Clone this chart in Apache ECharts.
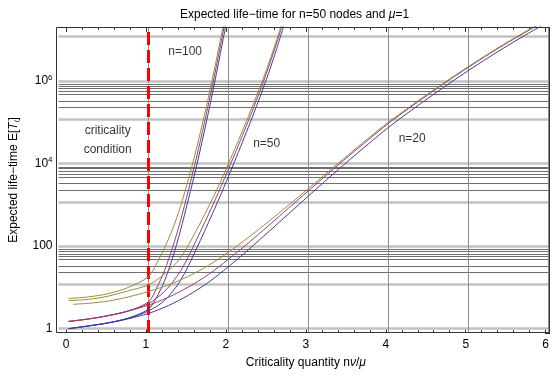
<!DOCTYPE html>
<html>
<head>
<meta charset="utf-8">
<script src="https://cdn.jsdelivr.net/npm/echarts@6/dist/echarts.min.js"></script>
<style>
  html, body { margin: 0; padding: 0; background: #fff; }
  #chart { width: 552px; height: 377px; }
</style>
</head>
<body>
<div id="chart"></div>
<script>
// values (log y axis)
const xs100 = [0, 0.25, 0.5, 0.75, 1, 1.1, 1.2, 1.3, 1.4, 1.5, 1.6, 1.7, 1.8, 1.9, 2.0];
const blue100 = [1, 1.17, 1.4, 1.82, 2.95, 5.62, 14.1, 50.1, 234, 1349, 8318, 6.03e4, 4.9e5, 4.57e6, 4.57e7];
const magenta100 = [1.5, 1.72, 2.07, 2.69, 4.47, 9.33, 25.1, 89.1, 403, 2239, 1.349e4, 9.55e4, 7.59e5, 6.97e6, 6.86e7];
const olive100 = [5.37, 5.89, 7.08, 10, 18.2, 37.2, 89.1, 251, 891, 4169, 2.24e4, 1.46e5, 1.1e6, 9.66e6, 9.12e7];

const xs50 = [0, 0.25, 0.5, 0.75, 1, 1.2, 1.4, 1.6, 1.8, 1.9, 2.0, 2.1, 2.2, 2.3, 2.4, 2.5, 2.6, 2.7];
const blue50 = [1, 1.17, 1.38, 1.78, 2.69, 4.79, 14.5, 85.1, 603, 1660, 4786, 1.41e4, 4.27e4, 1.32e5, 4.27e5, 1.48e6, 5.62e6, 2.34e7];
const magenta50 = [1.5, 1.72, 2.07, 2.69, 4.07, 7.94, 24.5, 140, 933, 2541, 7178, 2.09e4, 6.17e4, 1.88e5, 6e5, 2.07e6, 7.76e6, 3.2e7];
const olive50 = [4.79, 5.13, 6.17, 8.32, 11.5, 20.9, 51.3, 240, 1380, 3548, 9772, 2.75e4, 7.94e4, 2.37e5, 7.41e5, 2.48e6, 9.23e6, 3.76e7];

const xs20 = [0, 0.25, 0.5, 0.75, 1, 1.25, 1.5, 1.75, 2, 2.25, 2.5, 2.75, 3,
  3.25, 3.5, 3.75, 4, 4.25, 4.5, 4.75, 5, 5.25, 5.5, 5.75, 6];
const xs20olive = [0.06, 0.25, 0.5, 0.75, 1, 1.25, 1.5, 1.75, 2, 2.25, 2.5, 2.75, 3,
  3.25, 3.5, 3.75, 4, 4.25, 4.5, 4.75, 5, 5.25, 5.5, 5.75, 6];
const blue20 = [1, 1.16, 1.38, 1.74, 2.34, 3.63, 6.46, 13.2, 31.6, 81.3, 219, 596, 1622,
  4365, 1.15e4, 2.95e4, 7.41e4, 1.7e5, 3.8e5, 8.32e5, 1.76e6, 3.63e6, 7.24e6, 1.4e7, 2.63e7];
const magenta20 = [1.5, 1.72, 2.09, 2.69, 3.72, 5.75, 10.2, 20.4, 47.9, 119, 309, 822, 2163,
  5715, 1.48e4, 3.74e4, 9.27e4, 2.1e5, 4.65e5, 1.01e6, 2.11e6, 4.33e6, 8.55e6, 1.64e7, 3.07e7];
const olive20 = [3.9, 4.12, 4.68, 5.89, 7.94, 11.5, 18.6, 33.9, 70.8, 162, 389, 966, 2455,
  6310, 1.62e4, 4.07e4, 9.89e4, 2.22e5, 4.9e5, 1.05e6, 2.2e6, 4.49e6, 8.87e6, 1.69e7, 3.16e7];

// grid lines of the original plot
const gridX = [1, 2, 3, 4, 5, 6];
const gridThick = [1, 11.8, 100, 1180, 1e4, 1.18e5, 1e6, 1.18e7];
const gridThin = [83, 76, 65, 56, 47, 33, 23, 8.3e3, 7.6e3, 6.5e3, 5.6e3, 4.7e3, 3.3e3, 2.3e3,
  8.3e5, 7.6e5, 6.5e5, 5.6e5, 4.7e5, 3.3e5, 2.3e5];
const critical = 1;

const noteText = ['n=100', 'criticality', 'condition', 'n=50', 'n=20'];
const noteX = [1.46, 0.49, 0.49, 2.48, 4.3];
const noteY = [5e6, 6.1e4, 2.2e4, 3.1e4, 3.9e4];

const FONT = '"Liberation Sans", Arial, sans-serif';
const BLUE = '#3d3d99', MAGENTA = '#993d71', OLIVE = '#998b3d';
const Y_MIN = 0.787, Y_MAX = 2.02e7;

const pairs = (xs, ys) => xs.map((x, i) => [x, ys[i]]);

const curve = (name, xs, ys, color) => ({
  name,
  type: 'line',
  data: pairs(xs, ys),
  showSymbol: false,
  smooth: 0.3,
  lineStyle: { width: 1, color },
  itemStyle: { color },
  z: 5,
  animation: false,
});

const chart = echarts.init(document.getElementById('chart'), null, { renderer: 'canvas' });

const option = {
  animation: false,
  textStyle: { fontFamily: FONT },
  title: {
    text: 'Expected life\u2212time for n=50 nodes and {i|\u03bc}=1',
    left: 175,
    top: 4,
    textStyle: {
      fontSize: 12, fontWeight: 'normal', color: '#000', fontFamily: FONT,
      rich: { i: { fontSize: 12, fontStyle: 'italic', color: '#000', fontFamily: FONT } },
    },
  },
  grid: [
    { left: 56, top: 27, width: 494, height: 306 },
    { left: 66, top: 27, width: 482, height: 306 },
  ],
  xAxis: [
    { gridIndex: 0, type: 'value', min: -0.125, max: 6.025, show: false },
    {
      gridIndex: 1, type: 'value', min: 0, max: 6, interval: 1, position: 'bottom',
      axisLine: { show: false },
      axisTick: { inside: true, length: 5, lineStyle: { color: '#333' } },
      minorTick: { show: true, splitNumber: 5, length: 3, lineStyle: { color: '#333' } },
      axisLabel: { color: '#000', fontSize: 12, margin: 6, fontFamily: FONT },
      splitLine: { show: false },
      name: 'Criticality quantity n{i|\u03bd}/{i|\u03bc}',
      nameLocation: 'middle',
      nameGap: 24,
      nameTextStyle: {
        color: '#000', fontSize: 12, fontFamily: FONT,
        rich: { i: { fontSize: 12, fontStyle: 'italic', color: '#000', fontFamily: FONT } },
      },
    },
    {
      gridIndex: 1, type: 'value', min: 0, max: 6, interval: 1, position: 'top',
      axisLine: { show: false },
      axisTick: { inside: true, length: 5, lineStyle: { color: '#333' } },
      minorTick: { show: true, splitNumber: 5, length: 3, lineStyle: { color: '#333' } },
      axisLabel: { show: false },
      splitLine: { show: false },
    },
  ],
  yAxis: [
    {
      gridIndex: 0, type: 'log', logBase: 100, min: Y_MIN, max: Y_MAX,
      axisLine: { show: false },
      axisTick: { inside: true, length: 5, lineStyle: { color: '#333' } },
      splitLine: { show: false },
      axisLabel: {
        color: '#000', fontSize: 12, margin: 6, fontFamily: FONT,
        showMinLabel: false, showMaxLabel: false,
        formatter: (v) => {
          const e = Math.round(Math.log10(v));
          if (Math.abs(Math.log10(v) - e) > 1e-6) return '';
          if (e === 0) return '1';
          if (e === 2) return '100';
          return '10{sup|' + e + '}';
        },
        rich: { sup: { fontSize: 8, padding: [0, 0, 7, 0], color: '#000', fontFamily: FONT } },
      },
      name: 'Expected life\u2212time E[{i|T}{sub|i}]',
      nameLocation: 'middle',
      nameGap: 38,
      nameRotate: 90,
      nameTextStyle: {
        color: '#000', fontSize: 12, fontFamily: FONT,
        rich: {
          i: { fontSize: 12, fontStyle: 'italic', color: '#000', fontFamily: FONT },
          sub: { fontSize: 8, fontStyle: 'italic', padding: [5, 0, 0, 0], color: '#000', fontFamily: FONT },
        },
      },
    },
    {
      gridIndex: 0, type: 'log', logBase: 100, min: Y_MIN, max: Y_MAX, position: 'right',
      axisLine: { show: false },
      axisTick: { inside: true, length: 5, lineStyle: { color: '#333' } },
      axisLabel: { show: false },
      splitLine: { show: false },
    },
    { gridIndex: 1, type: 'value', show: false },
  ],
  graphic: [
    {
      type: 'rect',
      shape: { x: 56.5, y: 27.5, width: 493, height: 305 },
      style: { fill: 'none', stroke: '#333', lineWidth: 1 },
      z: 100,
      silent: true,
    },
  ],
  series: [
    {
      name: 'grid',
      type: 'line',
      data: [],
      z: 1,
      silent: true,
      markLine: {
        silent: true,
        symbol: ['none', 'none'],
        label: { show: false },
        animation: false,
        data: [
          ...gridThin.map((v) => ({ yAxis: v, lineStyle: { color: '#6e6e6e', width: 1, type: 'solid' } })),
          ...gridThick.map((v) => ({ yAxis: v, lineStyle: { color: '#c2c2c2', width: 2.5, type: 'solid' } })),
          ...gridX.map((v) => ({ xAxis: v, lineStyle: { color: '#8e8e8e', width: 1, type: 'solid' } })),
        ],
      },
    },
    curve('blue100', xs100, blue100, BLUE),
    curve('magenta100', xs100, magenta100, MAGENTA),
    curve('olive100', xs100, olive100, OLIVE),
    curve('blue50', xs50, blue50, BLUE),
    curve('magenta50', xs50, magenta50, MAGENTA),
    curve('olive50', xs50, olive50, OLIVE),
    curve('blue20', xs20, blue20, BLUE),
    curve('magenta20', xs20, magenta20, MAGENTA),
    curve('olive20', xs20olive, olive20, OLIVE),
    {
      name: 'criticality',
      type: 'line',
      data: [],
      z: 8,
      silent: true,
      markLine: {
        silent: true,
        symbol: ['none', 'none'],
        label: { show: false },
        animation: false,
        data: [{ xAxis: critical, lineStyle: { color: '#ff0000', width: 3, type: [13, 5] } }],
      },
    },
    {
      name: 'notes',
      type: 'scatter',
      symbolSize: 0,
      silent: true,
      z: 9,
      data: noteText.map((t, i) => ({ value: [noteX[i], noteY[i]], name: t })),
      label: {
        show: true,
        position: 'inside',
        formatter: (p) => p.name,
        color: '#000',
        fontSize: 12,
        fontFamily: FONT,
      },
    },
  ],
};

chart.setOption(option);
</script>
</body>
</html>
